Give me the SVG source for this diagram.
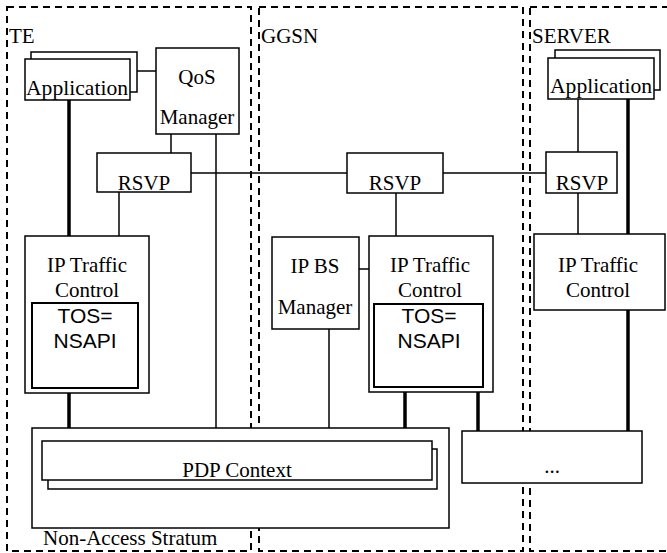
<svg xmlns="http://www.w3.org/2000/svg" width="667" height="553" viewBox="0 0 667 553">
<style>
.dash{fill:none;stroke:#000;stroke-width:2;stroke-dasharray:7,5}
.box{fill:#fff;stroke:#000;stroke-width:1.5}
.inner{fill:#fff;stroke:#000;stroke-width:2}
.thin{stroke:#000;stroke-width:1.5;fill:none}
.thick{stroke:#000;stroke-width:3.5;fill:none}
.t{font-family:"Liberation Serif","Times New Roman",serif;font-size:21px;fill:#000}
.s{font-family:"Liberation Sans",Arial,sans-serif;font-size:21px;fill:#000}
.m{text-anchor:middle}
</style>
<rect width="667" height="553" fill="#fff"/>
<g id="TE-domain">
<rect class="dash" x="7" y="7" width="244" height="544"/>
<text class="t" x="9" y="43">TE</text>
</g>
<g id="GGSN-domain">
<rect class="dash" x="259" y="7" width="264" height="544"/>
<text class="t" x="261" y="43">GGSN</text>
</g>
<g id="SERVER-domain">
<rect class="dash" x="530" y="7" width="150" height="544"/>
<text class="t" x="532" y="43">SERVER</text>
</g>
<g id="connectors">
<line class="thin" x1="137" y1="71" x2="156" y2="71"/>
<line class="thin" x1="171" y1="134" x2="171" y2="153"/>
<line class="thin" x1="216" y1="134" x2="216" y2="428"/>
<line class="thick" x1="69" y1="100" x2="69" y2="236"/>
<line class="thick" x1="69" y1="393" x2="69" y2="428"/>
<line class="thin" x1="119" y1="192" x2="119" y2="236"/>
<line class="thin" x1="191" y1="173" x2="347" y2="173"/>
<line class="thin" x1="443" y1="173" x2="546" y2="173"/>
<line class="thin" x1="396" y1="193" x2="396" y2="236"/>
<line class="thin" x1="359" y1="269" x2="369" y2="269"/>
<line class="thin" x1="329" y1="329" x2="329" y2="428"/>
<line class="thick" x1="405" y1="392" x2="405" y2="428"/>
<line class="thick" x1="478" y1="392" x2="478" y2="431"/>
<line class="thin" x1="578" y1="99" x2="578" y2="152"/>
<line class="thin" x1="578" y1="193" x2="578" y2="234"/>
<line class="thick" x1="628" y1="99" x2="628" y2="234"/>
<line class="thick" x1="628" y1="310" x2="628" y2="431"/>
</g>
<g id="te-application">
<rect class="box" x="31" y="52" width="106" height="40"/>
<rect class="box" x="25" y="59" width="105" height="41"/>
<text class="t m" x="77" y="95" textLength="102" lengthAdjust="spacingAndGlyphs">Application</text>
</g>
<g id="qos-manager">
<rect class="box" x="156" y="48" width="83" height="86"/>
<text class="t m" x="197" y="84">QoS</text>
<text class="t m" x="197" y="124">Manager</text>
</g>
<g id="te-rsvp">
<rect class="box" x="97" y="153" width="94" height="39"/>
<text class="t m" x="144" y="190">RSVP</text>
</g>
<g id="te-ip-traffic-control">
<rect class="box" x="25" y="236" width="124" height="157"/>
<text class="t m" x="87" y="272">IP Traffic</text>
<text class="t m" x="87" y="297">Control</text>
<rect class="inner" x="32" y="303" width="106" height="85"/>
<text class="s m" x="85" y="323">TOS=</text>
<text class="s m" x="85" y="348">NSAPI</text>
</g>
<g id="ggsn-rsvp">
<rect class="box" x="347" y="153" width="96" height="40"/>
<text class="t m" x="395" y="190">RSVP</text>
</g>
<g id="ip-bs-manager">
<rect class="box" x="272" y="237" width="87" height="92"/>
<text class="t m" x="315" y="273">IP BS</text>
<text class="t m" x="315" y="314">Manager</text>
</g>
<g id="ggsn-ip-traffic-control">
<rect class="box" x="369" y="236" width="124" height="156"/>
<text class="t m" x="430" y="272">IP Traffic</text>
<text class="t m" x="430" y="297">Control</text>
<rect class="inner" x="374" y="304" width="109" height="83"/>
<text class="s m" x="429" y="323">TOS=</text>
<text class="s m" x="429" y="348">NSAPI</text>
</g>
<g id="server-application">
<rect class="box" x="555" y="50" width="105" height="40"/>
<rect class="box" x="548" y="58" width="106" height="41"/>
<text class="t m" x="601" y="93" textLength="102" lengthAdjust="spacingAndGlyphs">Application</text>
</g>
<g id="server-rsvp">
<rect class="box" x="546" y="152" width="71" height="41"/>
<text class="t m" x="582" y="190">RSVP</text>
</g>
<g id="server-ip-traffic-control">
<rect class="box" x="534" y="234" width="131" height="76"/>
<text class="t m" x="598" y="272">IP Traffic</text>
<text class="t m" x="598" y="297">Control</text>
</g>
<g id="non-access-stratum">
<rect class="box" x="32" y="428" width="417" height="100"/>
<rect class="box" x="48" y="449" width="389" height="40"/>
<rect class="box" x="42" y="441" width="390" height="39"/>
<text class="t m" x="237" y="477">PDP Context</text>
<text class="t" x="43" y="545">Non-Access Stratum</text>
</g>
<g id="other-bearer">
<rect class="box" x="462" y="431" width="180" height="52"/>
<text class="t m" x="552" y="473">...</text>
</g>
</svg>
